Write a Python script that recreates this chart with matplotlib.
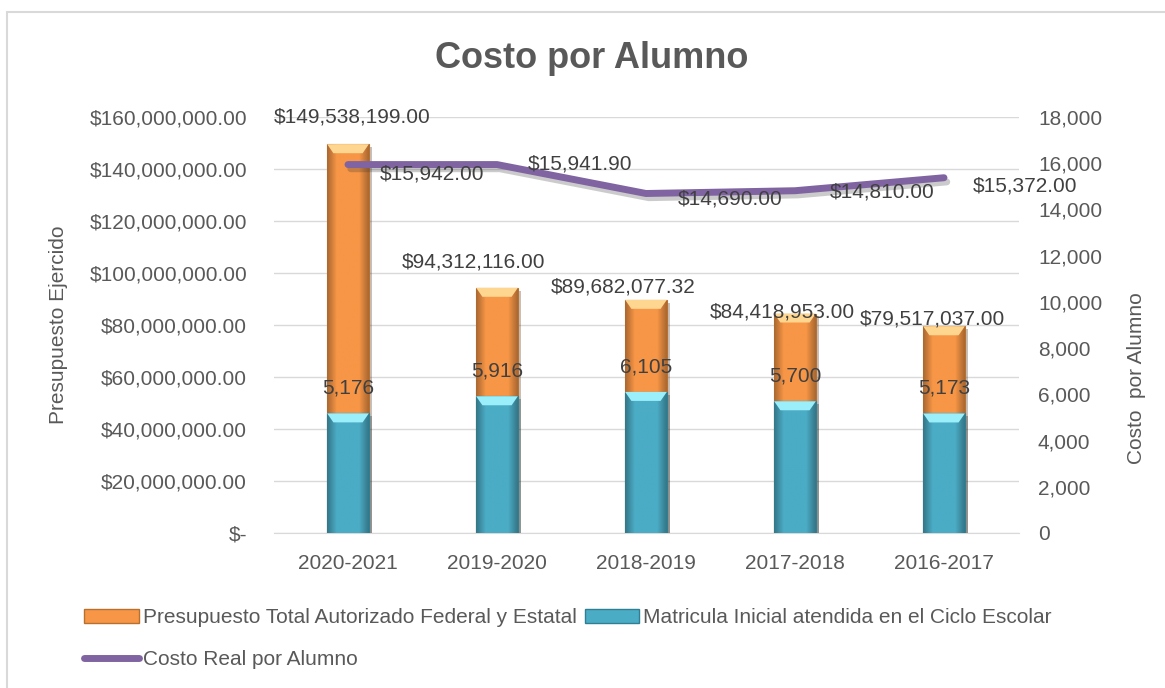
import numpy as np
import matplotlib
matplotlib.use("Agg")
import matplotlib.pyplot as plt
from matplotlib.patches import Patch, Rectangle
from matplotlib.lines import Line2D
import matplotlib.patheffects as pe
import matplotlib.colors as mcolors

plt.rcParams['font.family'] = ['Liberation Sans', 'DejaVu Sans']

# data
ciclos = ['2020-2021', '2019-2020', '2018-2019', '2017-2018', '2016-2017']
presupuesto = [149538199.00, 94312116.00, 89682077.32, 84418953.00, 79517037.00]
matricula = [5176, 5916, 6105, 5700, 5173]
costo = [15942.00, 15941.90, 14690.00, 14810.00, 15372.00]

# label nudges in pixels (dx, dy) as placed in the original
pres_off = [(4, 27), (-23, 26), (-23, 13), (-13, 2), (-12, 7)]
cost_off = [(84, -9), (83, 1), (84, -6), (87, -1), (81, -8)]

naranja = '#F79646'
azul = '#4BACC6'
morado = '#8064A2'
gris = '#595959'
oscuro = '#404040'

W, H = 1165, 688
fig = plt.figure(figsize=(W / 100, H / 100), dpi=100)
fig.patches.append(Rectangle((7 / W, -0.01), 1.0, 1 - 12 / H + 0.01, transform=fig.transFigure,
                             fill=False, edgecolor='#D9D9D9', lw=1.5))

ax = fig.add_axes([273.5 / W, 1 - 533 / H, 745 / W, 416 / H])
ax2 = ax.twinx()
x = np.arange(len(ciclos))
bw = 0.28
ax.set_xlim(-0.5, len(ciclos) - 0.5)
ax.set_ylim(0, 160e6)
ax2.set_ylim(0, 18000)


def shade(axis, bars, base, capcol, ylim_top):
    c = np.array(mcolors.to_rgb(base))
    dark = c * 0.7
    prof = np.concatenate([np.linspace(0, 1, 8), np.ones(16), np.linspace(1, 0, 8)])
    grad = np.array([dark + (c - dark) * p for p in prof])[None, :, :]
    cap = 9 / 416 * ylim_top
    for b in bars:
        x0, y0, w, h = b.get_x(), b.get_y(), b.get_width(), b.get_height()
        im = axis.imshow(grad, extent=[x0, x0 + w, y0, y0 + h], aspect='auto',
                         zorder=b.get_zorder() + 0.1, interpolation='bilinear')
        im.set_clip_path(b)
        axis.fill([x0, x0 + w, x0 + w * 0.85, x0 + w * 0.15],
                  [y0 + h, y0 + h, y0 + h - cap, y0 + h - cap],
                  color=capcol, zorder=b.get_zorder() + 0.2, lw=0)
    axis.set_xlim(-0.5, len(ciclos) - 0.5)
    axis.set_ylim(0, ylim_top)


b1 = ax.bar(x, presupuesto, bw, color=naranja, edgecolor='#B8702E', lw=0.8, zorder=2,
            path_effects=[pe.SimplePatchShadow(offset=(2, -2), alpha=0.3), pe.Normal()])
shade(ax, b1, naranja, '#FFD690', 160e6)
b2 = ax2.bar(x, matricula, bw, color=azul, edgecolor='#2E7F94', lw=0.8, zorder=2,
             path_effects=[pe.SimplePatchShadow(offset=(2, -2), alpha=0.3), pe.Normal()])
shade(ax2, b2, azul, '#9BEFFA', 18000)
ax2.plot(x, costo, color=morado, lw=5, solid_capstyle='round', solid_joinstyle='round', zorder=5,
         path_effects=[pe.SimpleLineShadow(offset=(2, -3), alpha=0.25, shadow_color='#333333'), pe.Normal()])

# grid and axes
ax.set_yticks(np.arange(0, 160e6 + 1, 20e6))
ax.yaxis.grid(True, color='#D9D9D9', lw=1)
ax.set_axisbelow(True)
ax2.set_yticks(np.arange(0, 18001, 2000))
for a in (ax, ax2):
    for s in a.spines.values():
        s.set_visible(False)
    a.tick_params(length=0, labelsize=15, labelcolor=gris)
ax.spines['bottom'].set_visible(True)
ax.spines['bottom'].set_color('#D9D9D9')
ax.set_xticks(x)
ax.set_xticklabels(ciclos)
ax.tick_params(axis='x', pad=15)
ax.tick_params(axis='y', pad=19)
ax2.tick_params(axis='y', pad=14)
ax.yaxis.set_major_formatter(lambda v, p: '$-' if v == 0 else '${:,.2f}'.format(v))
ax2.yaxis.set_major_formatter(lambda v, p: '{:,.0f}'.format(v))
ax2.set_zorder(ax.get_zorder() + 1)

fig.text(58 / W, 1 - 325 / H, 'Presupuesto Ejercido', rotation=90, ha='center', va='center',
         fontsize=15, color=gris)
fig.text(1137 / W, 1 - 378 / H, 'Costo  por Alumno', rotation=90, ha='center', va='center',
         fontsize=15, color=gris)
fig.text(592 / W, 1 - 58 / H, 'Costo por Alumno', ha='center', va='center', fontsize=26,
         fontweight='bold', color=gris)

# data labels
for i in range(len(ciclos)):
    ax.annotate('${:,.2f}'.format(presupuesto[i]), (x[i], presupuesto[i]), xytext=pres_off[i],
                textcoords='offset pixels', ha='center', va='center', fontsize=15, color=oscuro, zorder=8)
    ax2.annotate('{:,}'.format(matricula[i]), (x[i], matricula[i]), xytext=(0, 25),
                 textcoords='offset pixels', ha='center', va='center', fontsize=15, color=oscuro, zorder=8)
    ax2.annotate('${:,.2f}'.format(costo[i]), (x[i], costo[i]), xytext=cost_off[i],
                 textcoords='offset pixels', ha='center', va='center', fontsize=15, color=oscuro, zorder=8)

# legend
handles = [Patch(facecolor=naranja, edgecolor='#B8702E'),
           Line2D([0], [0], color=morado, lw=5, solid_capstyle='round'),
           Patch(facecolor=azul, edgecolor='#2E7F94')]
labels = ['Presupuesto Total Autorizado Federal y Estatal', 'Costo Real por Alumno',
          'Matricula Inicial atendida en el Ciclo Escolar']
fig.legend(handles, labels, ncol=2, loc='upper left', bbox_to_anchor=(76 / W, 1 - 600 / H),
           frameon=False, fontsize=15, labelcolor=gris, handlelength=2.6, handleheight=0.6,
           handletextpad=0.2, columnspacing=0.4, labelspacing=1.1, borderaxespad=0)

fig.savefig('out.png', dpi=100)
